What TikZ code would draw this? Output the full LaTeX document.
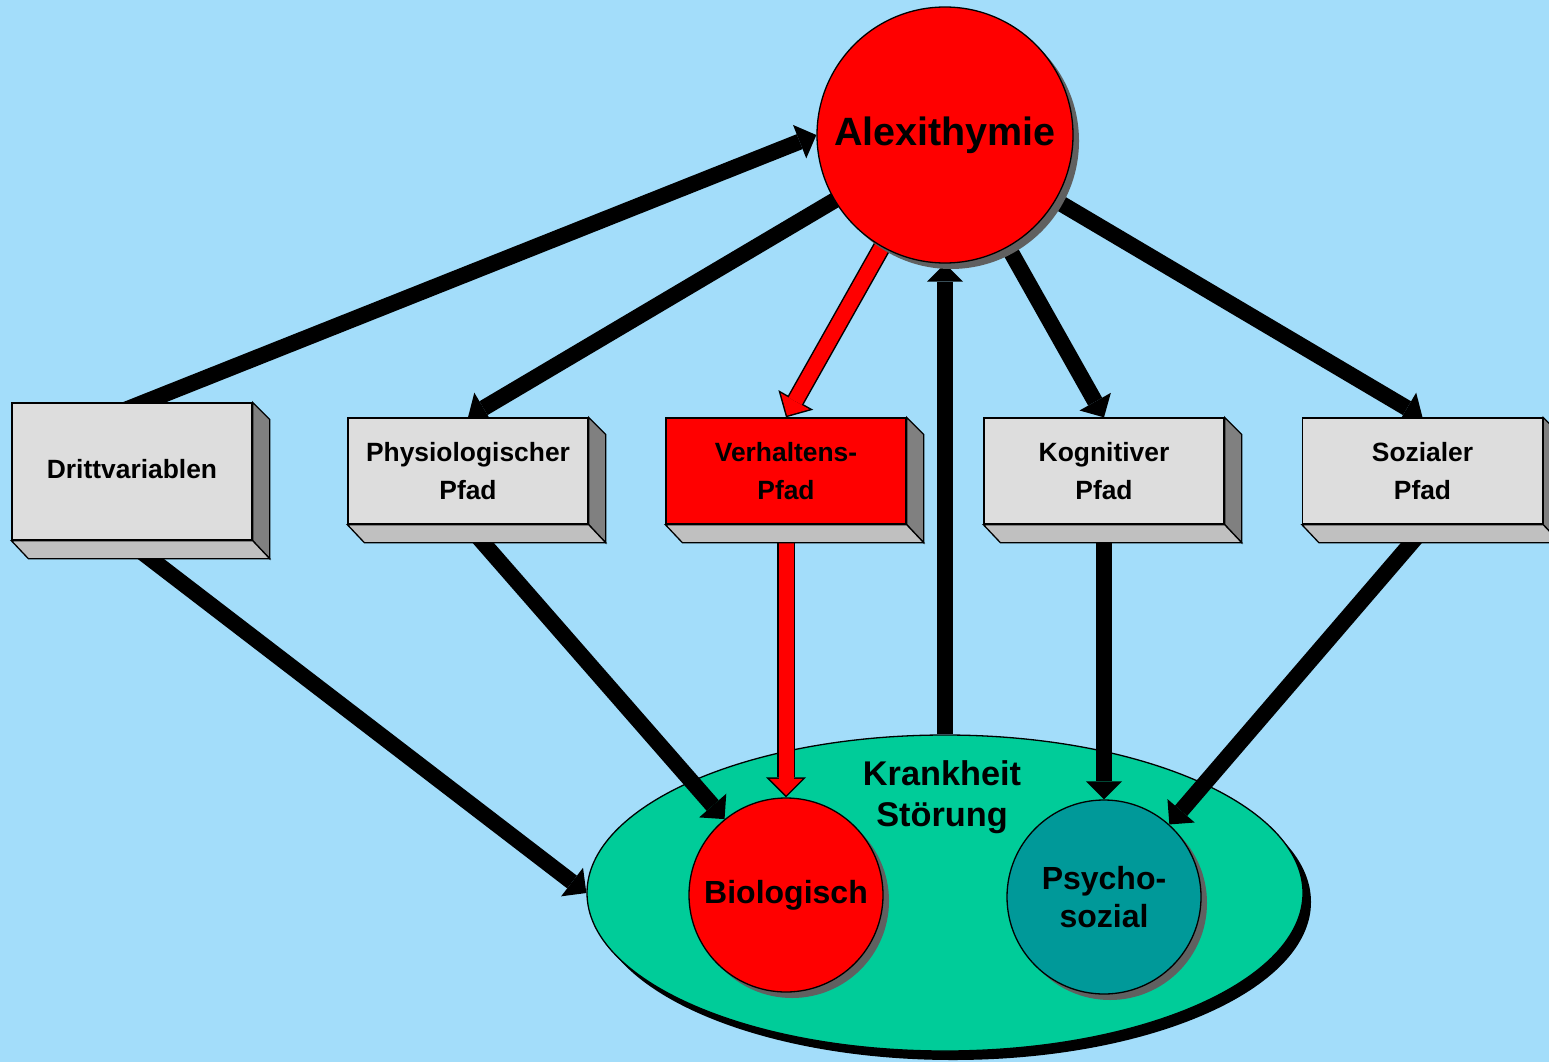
\documentclass[tikz,border=0pt]{standalone}
\usepackage{fontspec}
\setmainfont{Liberation Sans}
\usetikzlibrary{arrows.meta,calc,shapes.geometric,shadows}

\definecolor{sky}{RGB}{163,221,250}
\definecolor{boxface}{RGB}{221,221,221}
\definecolor{boxside}{RGB}{128,128,128}
\definecolor{boxbottom}{RGB}{192,192,192}
\definecolor{shade}{RGB}{96,96,96}
\definecolor{sick}{RGB}{0,204,153}
\definecolor{psyteal}{RGB}{0,153,153}

\pgfdeclarelayer{back}
\pgfdeclarelayer{links}
\pgfsetlayers{back,links,main}

\tikzset{
  outline/.style={draw=black, line width=1.3pt},
  pathbox/.style={outline, fill=boxface, minimum width=240pt, minimum height=106pt,
    inner sep=0pt, align=center, font=\fontsize{26.4}{38}\selectfont\bfseries},
  ball/.style={outline, circle, inner sep=0pt, align=center,
    drop shadow={shadow xshift=6pt, shadow yshift=-6pt, fill=shade, opacity=1}},
  link/.style={line width=16pt, -{Triangle[length=18pt,width=36pt,line width=0pt]}},
  redouter/.style={line width=18pt, -{Triangle[length=20pt,width=40pt,line width=0pt]}},
  redinner/.style={red, line width=15pt, shorten >=2.1pt,
    -{Triangle[length=16.4pt,width=32.8pt,line width=0pt]}},
}

% side and bottom faces of a 3D box
\newcommand\boxsides[1]{%
  \filldraw[outline, fill=boxside] (#1.north east) -- ++(17,17)
    -- ([shift={(17,18)}]#1.south east) -- (#1.south east) -- cycle;
  \filldraw[outline, fill=boxbottom] (#1.south west) -- (#1.south east)
    -- ([shift={(17,18)}]#1.south east) -- ([shift={(17,18)}]#1.south west) -- cycle;
}

\begin{document}
\begin{tikzpicture}[x=1pt,y=-1pt]
\useasboundingbox (0,0) rectangle (1549,1062);

\begin{pgfonlayer}{back}
  \fill[sky] (0,0) rectangle (1549,1062);
  \node[ellipse, outline, fill=sick, minimum width=716pt, minimum height=316pt, inner sep=0pt,
    drop shadow={shadow xshift=8pt, shadow yshift=-9pt, fill=black, opacity=1}] (krank) at (945,893) {};
\end{pgfonlayer}

% main circle
\node[ball, fill=red, minimum size=256pt, font=\fontsize{39.5}{44}\selectfont\bfseries] (alex) at (945,135) {Alexithymie};

% pathway boxes
\node[pathbox, minimum height=137pt] (dritt) at (132,471.5) {\raisebox{5pt}{Drittvariablen}};
\node[pathbox] (physio) at (468,471) {Physiologischer\\Pfad};
\node[pathbox, fill=red] (verh) at (786,471) {Verhaltens-\\Pfad};
\node[pathbox] (kogn) at (1104,471) {Kognitiver\\Pfad};
\node[pathbox] (sozial) at (1422.5,471) {Sozialer\\Pfad};
\boxsides{dritt}
\boxsides{physio}
\boxsides{verh}
\boxsides{kogn}
\boxsides{sozial}

% outcome circles inside the illness ellipse
\node[ball, fill=red, minimum size=194pt, font=\fontsize{32}{38}\selectfont\bfseries] (bio) at (786,895) {Biologisch};
\node[ball, fill=psyteal, minimum size=194pt, font=\fontsize{32}{38}\selectfont\bfseries] (psy) at (1104,897) {Psycho-\\sozial};
\node[font=\fontsize{34.3}{41}\selectfont\bfseries, align=center] (krtext) at (942,797) {Krankheit\\Störung};

\begin{pgfonlayer}{links}
  \coordinate (dritt-up) at ($(dritt.north)+(-8,8)$);
  \coordinate (dritt-down) at ($(dritt.south)+(8,10)$);
  \coordinate (physio-down) at ($(physio.south)+(8,10)$);
  \coordinate (verh-down) at ($(verh.south)+(0,10)$);
  \coordinate (kogn-down) at ($(kogn.south)+(0,10)$);
  \coordinate (sozial-down) at ($(sozial.south)+(-4,10)$);

  \draw[link] (dritt-up) -- (alex.180);
  \draw[link] (alex.center) -- (physio.north);
  \draw[redouter] (alex.center) -- (verh.north);
  \draw[redinner] (alex.center) -- (verh.north);
  \draw[link] (alex.center) -- (kogn.north);
  \draw[link] (alex.center) -- (sozial.north);
  \draw[link] (krank.north) -- (alex.south);

  \draw[link] (dritt-down) -- (krank.west);
  \draw[link] (physio-down) -- (bio.129);
  \draw[redouter] (verh-down) -- (bio.north);
  \draw[redinner] (verh-down) -- (bio.north);
  \draw[link] (kogn-down) -- (psy.north);
  \draw[link] (sozial-down) -- (psy.48);
\end{pgfonlayer}
\end{tikzpicture}
\end{document}
